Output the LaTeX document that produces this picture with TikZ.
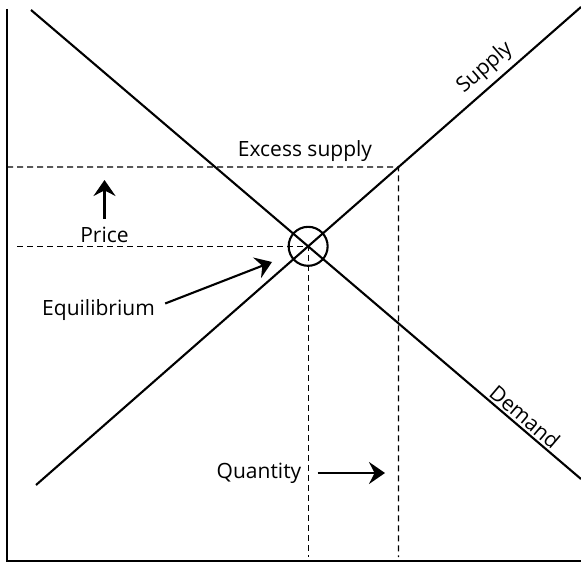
\documentclass[tikz,border=0pt]{standalone}
\usepackage{fontspec}
\setmainfont{Open Sans}
\usetikzlibrary{arrows.meta,positioning}

\begin{document}
\begin{tikzpicture}[
  x=0.5pt, y=-0.5pt,
  >={Stealth[length=8pt,width=11pt,inset=2.8pt]},
  axe/.style={line width=1.2pt},
  courbe/.style={line width=1.05pt},
  tirets/.style={line width=0.6pt,dash pattern=on 3pt off 2pt},
  fleche/.style={line width=1.05pt,->},
  etiq/.style={font=\fontsize{10.5}{12}\selectfont,inner sep=1pt},
]
  \useasboundingbox (0,0) rectangle (581,565);

  % Coordonnees
  \coordinate (O)    at (7,561);
  \coordinate (ymax) at (7,9);
  \coordinate (xmax) at (581,561);
  \coordinate (bas)  at (0,557);   % fin des pointilles
  \coordinate (D1) at (31,10);     % demande
  \coordinate (D2) at (581,479);
  \coordinate (S1) at (36,485);    % offre
  \coordinate (S2) at (581,7);
  \coordinate (eq) at (intersection of D1--D2 and S1--S2);
  \coordinate (exc)  at (7,167);   % prix haut
  \coordinate (exc2) at (581,167);
  \coordinate (sexc) at (intersection of S1--S2 and exc--exc2);
  \coordinate (pdeb) at (17,0);

  % Axes
  \draw[axe] (ymax) -- (O) -- (xmax);

  % Courbes d'offre et de demande
  \draw[courbe] (D1) -- (D2) node[etiq, sloped, above, pos=0.885] (demande) {Demand};
  \draw[courbe] (S1) -- (S2) node[etiq, sloped, above, pos=0.845, outer sep=2.5pt] (offre) {Supply};

  % Pointilles
  \draw[tirets] (exc) -- (sexc) -- (sexc |- bas);
  \draw[tirets] (pdeb |- eq) -- (eq) -- (eq |- bas);

  % Equilibre
  \node[draw, circle, line width=1.05pt, minimum size=19.5pt, inner sep=0pt] (cercle) at (eq) {};

  % Etiquettes
  \node[etiq] (exces) at (305,151) {Excess supply};
  \node[etiq] (prix)  at (104.5,235) {Price};
  \node[etiq] (equil) at (98.5,310.5) {Equilibrium};
  \node[etiq] (quant) at (259,473) {Quantity};

  % Fleches
  \coordinate (fprix)  at (103.5,180);
  \coordinate (feq)    at (272,262);
  \coordinate (fquant) at (385,471);
  \draw[fleche, shorten <=3pt] (prix.north) -- (prix.north |- fprix);
  \draw[fleche] ([shift={(8,-7)}]equil.east) -- (feq);
  \draw[fleche, shorten <=7pt] (quant.east) -- (quant.east -| fquant);
\end{tikzpicture}
\end{document}
